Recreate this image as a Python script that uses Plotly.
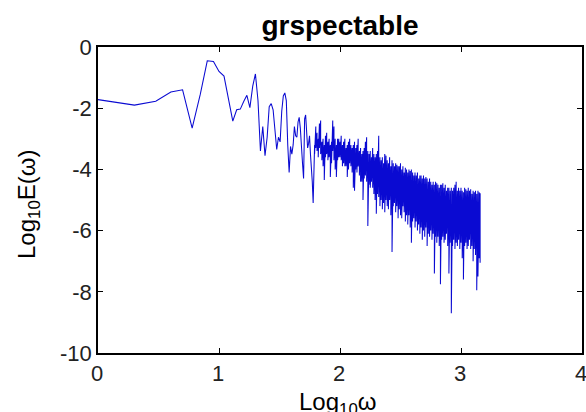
import numpy as np
import plotly.graph_objects as go

# ---- data ----
# low-frequency part: integer sample frequencies omega = 1..60
omega_low = list(range(1, 61))
log_e_low = [
    -1.72, -1.90, -1.77, -1.47, -1.40, -2.65, -1.55, -0.45, -0.47, -0.80,
    -0.95, -1.75, -2.42, -2.05, -2.03, -1.78, -1.58, -1.98, -1.28, -0.88,
    -1.75, -3.40, -2.60, -3.55, -2.95, -1.95, -1.85, -2.05, -2.85, -3.35,
    -2.95, -3.10, -2.10, -1.60, -1.50, -1.75, -3.20, -4.10, -3.25, -3.50,
    -3.20, -2.60, -2.90, -2.95, -2.45, -2.30, -2.65, -3.10, -3.80, -4.30,
    -2.35, -2.22, -2.70, -3.30, -3.15, -2.90, -3.50, -3.90, -4.40, -5.10,
]

# high-frequency dense part: log10(omega) columns with local max / min of log10 E
band_log_omega = [
    1.79, 1.80, 1.81, 1.82, 1.83, 1.84, 1.85, 1.86, 1.87, 1.88,
    1.89, 1.90, 1.91, 1.92, 1.93, 1.94, 1.95, 1.96, 1.97, 1.98,
    1.99, 2.00, 2.01, 2.02, 2.03, 2.04, 2.05, 2.06, 2.07, 2.08,
    2.09, 2.10, 2.11, 2.12, 2.13, 2.14, 2.15, 2.16, 2.17, 2.18,
    2.19, 2.20, 2.21, 2.22, 2.23, 2.24, 2.25, 2.26, 2.27, 2.28,
    2.29, 2.30, 2.31, 2.32, 2.33, 2.34, 2.35, 2.36, 2.37, 2.38,
    2.39, 2.40, 2.41, 2.42, 2.43, 2.44, 2.45, 2.46, 2.47, 2.48,
    2.49, 2.50, 2.51, 2.52, 2.53, 2.54, 2.55, 2.56, 2.57, 2.58,
    2.59, 2.60, 2.61, 2.62, 2.63, 2.64, 2.65, 2.66, 2.67, 2.68,
    2.69, 2.70, 2.71, 2.72, 2.73, 2.74, 2.75, 2.76, 2.77, 2.78,
    2.79, 2.80, 2.81, 2.82, 2.83, 2.84, 2.85, 2.86, 2.87, 2.88,
    2.89, 2.90, 2.91, 2.92, 2.93, 2.94, 2.95, 2.96, 2.97, 2.98,
    2.99, 3.00, 3.01, 3.02, 3.03, 3.04, 3.05, 3.06, 3.07, 3.08,
    3.09, 3.10, 3.11, 3.12, 3.13, 3.14, 3.15, 3.158,
]
band_top = [
    -3.20, -2.60, -2.80, -3.00, -2.50, -2.40, -3.10, -3.00, -3.20, -2.90,
    -2.80, -3.10, -3.00, -3.20, -3.10, -2.40, -2.60, -3.00, -3.20, -3.00,
    -3.00, -3.10, -2.90, -3.20, -3.10, -3.00, -3.30, -3.20, -3.10, -3.00,
    -3.20, -3.30, -3.20, -3.10, -3.30, -3.20, -3.00, -3.40, -3.30, -3.50,
    -3.40, -3.30, -3.10, -2.95, -3.40, -3.50, -3.40, -3.60, -3.30, -3.50,
    -3.60, -3.50, -3.40, -2.90, -3.60, -3.70, -3.60, -3.80, -3.50, -3.55,
    -3.70, -3.80, -3.60, -3.90, -3.70, -3.80, -3.90, -3.80, -3.85, -3.90,
    -3.90, -3.80, -4.00, -3.90, -4.10, -3.95, -4.00, -4.10, -4.00, -4.05,
    -4.00, -4.10, -4.20, -4.10, -4.20, -4.10, -4.30, -4.20, -4.20, -4.30,
    -4.20, -4.30, -4.25, -4.30, -4.40, -4.30, -4.40, -4.50, -4.40, -4.50,
    -4.40, -4.45, -4.50, -4.60, -4.50, -4.50, -4.45, -4.60, -4.50, -4.70,
    -4.60, -4.60, -4.70, -4.60, -4.70, -4.60, -4.50, -4.40, -4.70, -4.60,
    -4.70, -4.60, -4.70, -4.75, -4.60, -4.65, -4.70, -4.60, -4.70, -4.65,
    -4.80, -4.70, -4.75, -4.70, -4.80, -4.70, -4.75, -4.78,
]
band_bottom = [
    -3.50, -3.30, -3.40, -3.60, -3.30, -3.50, -3.70, -3.90, -4.35, -3.60,
    -3.50, -3.70, -3.60, -4.25, -3.80, -3.40, -3.70, -4.00, -4.25, -3.70,
    -3.60, -3.60, -3.70, -3.90, -3.80, -3.90, -3.90, -4.25, -4.00, -3.80,
    -3.90, -4.10, -4.60, -4.70, -4.00, -4.10, -3.90, -4.20, -4.40, -4.40,
    -5.00, -4.30, -4.20, -4.40, -5.85, -4.50, -4.60, -4.40, -4.60, -4.80,
    -5.00, -5.45, -4.80, -4.90, -5.20, -5.00, -5.30, -5.10, -5.40, -5.00,
    -5.20, -5.30, -5.00, -5.50, -6.70, -5.20, -5.10, -5.40, -5.20, -5.60,
    -5.30, -5.50, -5.60, -5.20, -5.40, -5.70, -5.50, -5.80, -5.50, -5.90,
    -6.40, -5.70, -5.60, -5.90, -5.70, -6.00, -5.80, -6.10, -5.90, -6.30,
    -6.00, -6.20, -5.90, -6.50, -6.10, -6.20, -6.00, -6.30, -6.10, -7.40,
    -6.20, -6.40, -6.20, -6.50, -7.75, -6.30, -6.20, -6.40, -6.30, -6.10,
    -6.50, -7.40, -6.40, -8.70, -6.50, -6.30, -6.60, -6.40, -6.50, -6.30,
    -6.60, -6.40, -6.90, -7.60, -6.50, -6.40, -6.60, -6.50, -6.30, -6.60,
    -6.50, -7.00, -6.60, -6.80, -7.95, -7.50, -6.90, -7.05,
]

x_ticks = [0, 1, 2, 3, 4]
y_ticks = [-10, -8, -6, -4, -2, 0]

# ---- build the polyline ----
xs = list(np.log10(omega_low))
ys = list(log_e_low)
for bx, t, b in zip(band_log_omega, band_top, band_bottom):
    xs += [bx, bx]
    ys += [t, b]

FONT = "Liberation Sans"

fig = go.Figure()
fig.add_trace(go.Scatter(x=xs, y=ys, mode="lines",
                         line=dict(color="#0a0ad2", width=1.05),
                         hoverinfo="skip"))

fig.update_layout(
    width=586, height=412,
    margin=dict(l=98, r=4, t=47, b=59, autoexpand=False),
    paper_bgcolor="white", plot_bgcolor="white",
    showlegend=False,
    title=dict(text="<b>grspectable</b>", x=0.5, xref="paper", xanchor="center",
               y=1 - 25 / 412, yref="container", yanchor="middle",
               font=dict(family=FONT, size=28, color="black")),
)

axis_common = dict(
    ticks="inside", ticklen=5, tickwidth=1, tickcolor="black",
    showline=True, linecolor="black", linewidth=1.5, mirror="ticks",
    showgrid=False, zeroline=False, ticklabeloverflow="allow",
    automargin=False,
    tickfont=dict(family=FONT, size=22, color="#222"),
)
fig.update_xaxes(range=[0, 4], tickvals=x_ticks,
                 ticktext=[str(v) for v in x_ticks], ticklabelshift=-1,
                 **axis_common)
fig.update_yaxes(range=[-10, 0], tickvals=y_ticks,
                 ticktext=[str(v) for v in y_ticks], **axis_common)

fig.add_annotation(text="Log<sub>10</sub>ω", xref="paper", yref="paper",
                   x=0.5, y=0, xanchor="center", yanchor="top",
                   xshift=-3, yshift=-33, showarrow=False,
                   font=dict(family=FONT, size=24, color="black"))
fig.add_annotation(text="Log<sub>10</sub>E(ω)", xref="paper", yref="paper",
                   x=0, y=0.5, xanchor="center", yanchor="middle",
                   xshift=-70, yshift=-5, textangle=-90, showarrow=False,
                   font=dict(family=FONT, size=24, color="black"))

# remove the default page margin so the figure fills the window exactly
fig.write_html("out.html", config={"displayModeBar": False},
               post_script="document.body.style.margin='0';"
                           "document.body.style.overflow='hidden';")
